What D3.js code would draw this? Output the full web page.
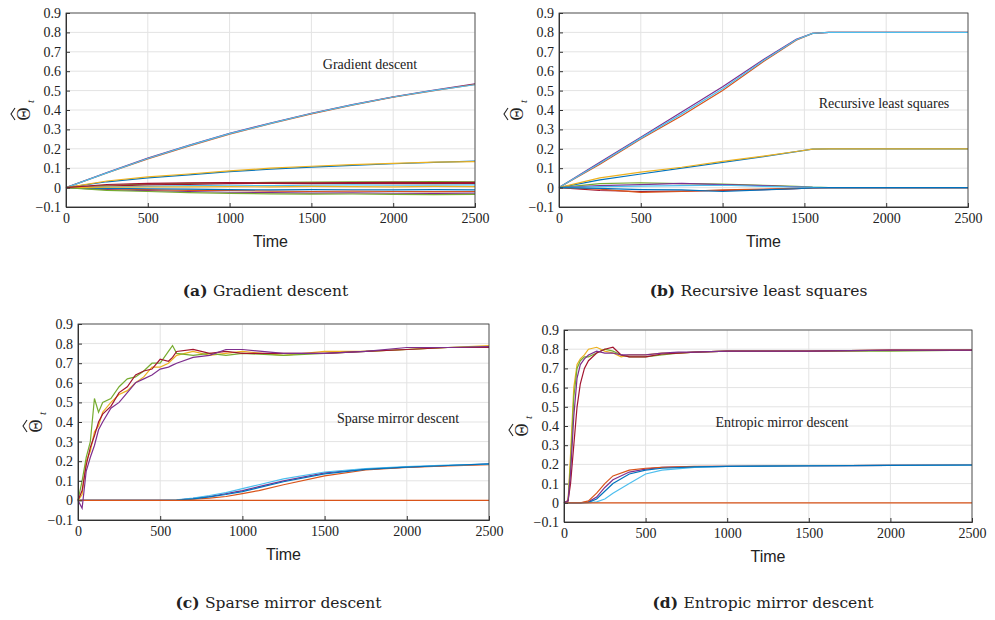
<!DOCTYPE html>
<html>
<head>
<meta charset="utf-8">
<script src="https://cdn.jsdelivr.net/npm/d3@7"></script>
<style>
  body { margin: 0; background: #fff; }
  text { fill: #222; }
</style>
</head>
<body>
<svg id="chart" width="995" height="620"></svg>
<script>
// Tick labels shared by all four panels
const xTicks = [0, 500, 1000, 1500, 2000, 2500];
const yTicks = [-0.1, 0, 0.1, 0.2, 0.3, 0.4, 0.5, 0.6, 0.7, 0.8, 0.9];
const colors = ['#7E2F8E', '#D95319', '#4DBEEE', '#0072BD', '#EDB120', '#77AC30', '#A2142F'];

// (a) gradient descent: sample times and trajectories
const timesA = [0, 250, 500, 750, 1000, 1250, 1500, 1750, 2000, 2250, 2500];
const gdSeries = [
  [0, 0.078, 0.152, 0.218, 0.28, 0.333, 0.383, 0.428, 0.468, 0.503, 0.535],
  [0, 0.075, 0.148, 0.214, 0.276, 0.33, 0.38, 0.425, 0.466, 0.5, 0.532],
  [0, 0.076, 0.15, 0.216, 0.278, 0.331, 0.382, 0.426, 0.467, 0.501, 0.53],
  [0, 0.03, 0.05, 0.066, 0.082, 0.095, 0.106, 0.115, 0.123, 0.13, 0.136],
  [0, 0.034, 0.055, 0.07, 0.086, 0.1, 0.11, 0.118, 0.125, 0.131, 0.134],
  [0, 0.012, 0.018, 0.022, 0.025, 0.027, 0.028, 0.03, 0.03, 0.031, 0.03],
  [0, 0.008, 0.014, 0.017, 0.02, 0.022, 0.02, 0.022, 0.021, 0.02, 0.022],
  [0, -0.01, -0.016, -0.02, -0.024, -0.026, -0.028, -0.027, -0.029, -0.03, -0.028],
  [0, -0.006, -0.01, -0.014, -0.015, -0.018, -0.02, -0.018, -0.02, -0.021, -0.02],
  [0, 0.004, 0.006, 0.01, 0.012, 0.01, 0.012, 0.014, 0.012, 0.013, 0.014],
  [0, -0.004, -0.006, -0.008, -0.01, -0.012, -0.01, -0.011, -0.012, -0.01, -0.012],
  [0, 0.002, 0.003, 0.004, 0.005, 0.004, 0.006, 0.005, 0.004, 0.006, 0.005],
  [0, -0.014, -0.02, -0.026, -0.03, -0.032, -0.034, -0.033, -0.035, -0.036, -0.035],
  [0, 0.016, 0.022, 0.024, 0.026, 0.024, 0.025, 0.026, 0.027, 0.026, 0.027]
];

// (b) recursive least squares
const timesB = [0, 250, 500, 750, 1000, 1250, 1450, 1550, 1650, 2000, 2500];
const rlsSeries = [
  [0, 0.13, 0.26, 0.39, 0.52, 0.66, 0.765, 0.795, 0.8, 0.8, 0.8],
  [0, 0.12, 0.25, 0.37, 0.5, 0.65, 0.76, 0.795, 0.8, 0.8, 0.8],
  [0, 0.125, 0.255, 0.38, 0.51, 0.655, 0.762, 0.795, 0.8, 0.8, 0.8],
  [0, 0.04, 0.07, 0.1, 0.13, 0.16, 0.185, 0.198, 0.2, 0.2, 0.2],
  [0, 0.05, 0.08, 0.105, 0.135, 0.162, 0.186, 0.198, 0.2, 0.2, 0.2],
  [0, 0.02, 0.025, 0.02, 0.018, 0.012, 0.006, 0.002, 0, 0, 0],
  [0, -0.015, -0.02, -0.018, -0.015, -0.01, -0.005, -0.002, 0, 0, 0],
  [0, 0.01, 0.015, 0.022, 0.015, 0.01, 0.004, 0.001, 0, 0, 0],
  [0, -0.008, -0.025, -0.02, -0.012, -0.008, -0.004, -0.001, 0, 0, 0],
  [0, 0.005, 0.008, 0.01, 0.012, 0.006, 0.003, 0.001, 0, 0, 0],
  [0, -0.004, -0.01, -0.012, -0.02, -0.012, -0.006, -0.002, 0, 0, 0]
];

// (c) sparse mirror descent
const timesC = [0, 25, 50, 75, 100, 125, 150, 200, 250, 300, 350, 400, 450, 500, 550, 575, 600, 700, 800, 900, 1000, 1250, 1500, 1750, 2000, 2250, 2500];
const smdHigh = [
  [0, 0.03, 0.2, 0.25, 0.35, 0.38, 0.45, 0.5, 0.54, 0.56, 0.6, 0.63, 0.68, 0.68, 0.7, 0.72, 0.74, 0.76, 0.74, 0.75, 0.76, 0.74, 0.76, 0.76, 0.77, 0.78, 0.79],
  [0, 0.1, 0.22, 0.3, 0.52, 0.45, 0.5, 0.52, 0.58, 0.62, 0.63, 0.66, 0.7, 0.7, 0.76, 0.79, 0.75, 0.74, 0.75, 0.74, 0.75, 0.74, 0.75, 0.76, 0.77, 0.78, 0.785],
  [0, 0.05, 0.18, 0.27, 0.33, 0.4, 0.44, 0.48, 0.55, 0.58, 0.64, 0.66, 0.67, 0.72, 0.71, 0.73, 0.76, 0.77, 0.75, 0.76, 0.75, 0.75, 0.75, 0.76, 0.77, 0.78, 0.78],
  [0, -0.04, 0.15, 0.22, 0.28, 0.36, 0.4, 0.47, 0.5, 0.55, 0.6, 0.62, 0.64, 0.67, 0.68, 0.69, 0.7, 0.73, 0.74, 0.77, 0.77, 0.75, 0.75, 0.76, 0.78, 0.78, 0.785]
];
const timesC2 = [0, 500, 600, 700, 800, 900, 1000, 1100, 1250, 1500, 1750, 2000, 2250, 2500];
const smdMid = [
  [0, 0, 0.002, 0.01, 0.02, 0.035, 0.05, 0.07, 0.1, 0.14, 0.16, 0.17, 0.178, 0.185],
  [0, 0, 0.001, 0.006, 0.012, 0.02, 0.035, 0.05, 0.08, 0.125, 0.155, 0.168, 0.176, 0.182],
  [0, 0, 0.003, 0.012, 0.025, 0.04, 0.06, 0.08, 0.11, 0.145, 0.162, 0.172, 0.18, 0.185],
  [0, 0, 0.002, 0.008, 0.018, 0.03, 0.045, 0.065, 0.095, 0.135, 0.158, 0.17, 0.178, 0.186],
  [0, 0, 0, 0, 0, 0, 0, 0, 0, 0, 0, 0, 0, 0]
];

// (d) entropic mirror descent
const timesD = [0, 25, 40, 60, 80, 100, 125, 150, 200, 250, 300, 350, 400, 500, 600, 700, 800, 1000, 1500, 2000, 2500];
const emdHigh = [
  [0, 0.01, 0.25, 0.6, 0.72, 0.75, 0.77, 0.8, 0.81, 0.79, 0.78, 0.76, 0.77, 0.77, 0.78, 0.78, 0.785, 0.79, 0.79, 0.795, 0.795],
  [0, 0.01, 0.2, 0.55, 0.7, 0.74, 0.76, 0.76, 0.78, 0.8, 0.79, 0.77, 0.76, 0.76, 0.77, 0.78, 0.785, 0.79, 0.79, 0.79, 0.795],
  [0, 0.01, 0.1, 0.3, 0.5, 0.62, 0.7, 0.74, 0.78, 0.8, 0.81, 0.77, 0.76, 0.76, 0.775, 0.78, 0.785, 0.79, 0.79, 0.795, 0.795],
  [0, 0.01, 0.15, 0.45, 0.65, 0.72, 0.75, 0.77, 0.79, 0.78, 0.78, 0.77, 0.77, 0.77, 0.78, 0.785, 0.785, 0.79, 0.79, 0.795, 0.795]
];
const timesD2 = [0, 100, 150, 200, 250, 300, 400, 500, 600, 800, 1000, 1500, 2000, 2500];
const emdMid = [
  [0, 0, 0.005, 0.03, 0.08, 0.12, 0.16, 0.175, 0.185, 0.188, 0.19, 0.192, 0.195, 0.197],
  [0, 0, 0.01, 0.05, 0.1, 0.14, 0.17, 0.18, 0.185, 0.19, 0.19, 0.193, 0.195, 0.197],
  [0, 0, 0, 0.005, 0.02, 0.05, 0.1, 0.15, 0.17, 0.185, 0.19, 0.192, 0.195, 0.196],
  [0, 0, 0.002, 0.02, 0.06, 0.1, 0.15, 0.17, 0.18, 0.187, 0.19, 0.193, 0.195, 0.197],
  [0, 0, 0, 0, 0, 0, 0, 0, 0, 0, 0, 0, 0, 0]
];

const panels = [
  { box: [66, 13, 475, 207], label: 'Gradient descent', lx: 370, ly: 69, tag: '(a)', cap: 'Gradient descent', cy: 296,
    groups: [[timesA, gdSeries]] },
  { box: [559, 13, 968, 207], label: 'Recursive least squares', lx: 884, ly: 108, tag: '(b)', cap: 'Recursive least squares', cy: 296,
    groups: [[timesB, rlsSeries]] },
  { box: [78, 324, 489, 520], label: 'Sparse mirror descent', lx: 398, ly: 423, tag: '(c)', cap: 'Sparse mirror descent', cy: 608,
    groups: [[timesC2, smdMid], [timesC, smdHigh]] },
  { box: [564, 330, 972, 522], label: 'Entropic mirror descent', lx: 782, ly: 427, tag: '(d)', cap: 'Entropic mirror descent', cy: 608,
    groups: [[timesD2, emdMid], [timesD, emdHigh]] }
];

const svg = d3.select('#chart');

panels.forEach((p) => {
  const [x0, y0, x1, y1] = p.box;
  const x = d3.scaleLinear().domain([0, 2500]).range([x0, x1]);
  const y = d3.scaleLinear().domain([-0.1, 0.9]).range([y1, y0]);
  const g = svg.append('g');

  // grid
  g.selectAll('.gx').data(xTicks).enter().append('line')
    .attr('x1', (d) => x(d)).attr('x2', (d) => x(d)).attr('y1', y0).attr('y2', y1)
    .attr('stroke', '#e3e3e3');
  g.selectAll('.gy').data(yTicks).enter().append('line')
    .attr('y1', (d) => y(d)).attr('y2', (d) => y(d)).attr('x1', x0).attr('x2', x1)
    .attr('stroke', '#e3e3e3');

  // lines; flat zero lines are drawn orange as in the original
  let ci = 0;
  p.groups.forEach(([times, series]) => {
    series.forEach((vals) => {
      const flat = vals.every((v) => v === 0);
      const line = d3.line().x((d, i) => x(times[i])).y((d) => y(d));
      g.append('path').datum(vals).attr('d', line)
        .attr('fill', 'none').attr('stroke', flat ? '#D95319' : colors[ci++ % colors.length]).attr('stroke-width', 1.2);
    });
  });

  // axes
  const ax = g.append('g').attr('transform', `translate(0,${y1})`)
    .call(d3.axisBottom(x).tickValues(xTicks).tickSize(-4).tickPadding(6).tickFormat(d3.format('d')));
  const ay = g.append('g').attr('transform', `translate(${x0},0)`)
    .call(d3.axisLeft(y).tickValues(yTicks).tickSize(-4).tickPadding(5).tickFormat((d) => (d === 0 ? '0' : d3.format('.1f')(d))));
  [ax, ay].forEach((a) => {
    a.selectAll('text').attr('font-family', 'Liberation Serif').attr('font-size', 14).attr('fill', '#222');
    a.selectAll('line, path').attr('stroke', '#333');
  });
  g.append('rect').attr('x', x0).attr('y', y0).attr('width', x1 - x0).attr('height', y1 - y0)
    .attr('fill', 'none').attr('stroke', '#333').attr('stroke-width', 0.8);

  // labels
  g.append('text').attr('x', (x0 + x1) / 2).attr('y', y1 + 40).attr('text-anchor', 'middle')
    .attr('font-family', 'Liberation Sans').attr('font-size', 16).text('Time');
  const yl = g.append('g').attr('transform', `translate(${x0 - 36},${(y0 + y1) / 2}) rotate(-90)`)
    .attr('font-family', 'Liberation Serif');
  yl.append('text').attr('x', -4).attr('y', 0).attr('text-anchor', 'middle').attr('font-size', 18).text('Θ');
  yl.append('path').attr('d', 'M-10,-15 L-4,-19 L2,-15').attr('fill', 'none').attr('stroke', '#222').attr('stroke-width', 1.1);
  yl.append('text').attr('x', 7).attr('y', 4).attr('font-size', 11).attr('font-style', 'italic').text('t');
  g.append('text').attr('x', p.lx).attr('y', p.ly).attr('text-anchor', 'middle')
    .attr('font-family', 'Liberation Serif').attr('font-size', 14).text(p.label);

  const cap = g.append('text').attr('x', (x0 + x1) / 2 - 5).attr('y', p.cy).attr('text-anchor', 'middle')
    .attr('font-family', 'DejaVu Serif').attr('font-size', 15.5);
  cap.append('tspan').attr('font-weight', 'bold').text(p.tag + ' ');
  cap.append('tspan').text(p.cap);
});
</script>
</body>
</html>
